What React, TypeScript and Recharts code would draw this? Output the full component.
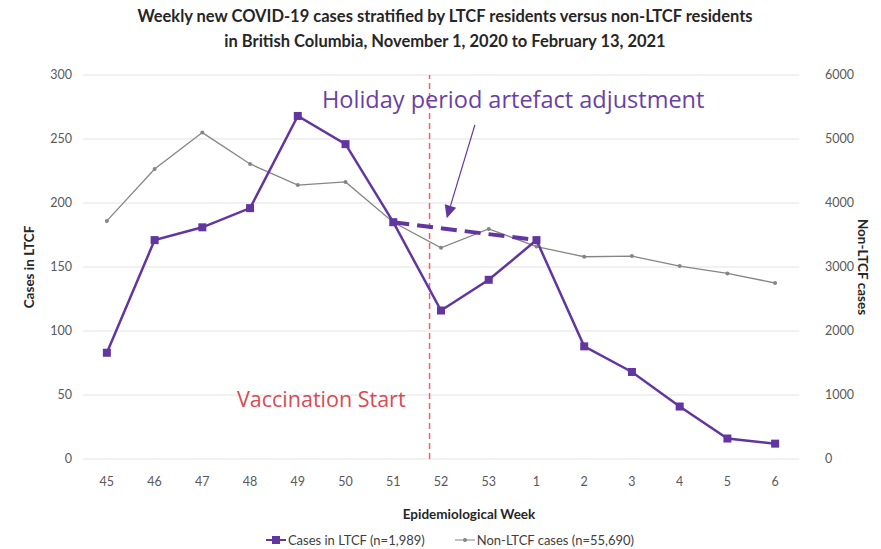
import React from "react";
import {
  LineChart,
  Line,
  XAxis,
  YAxis,
  CartesianGrid,
  ReferenceLine,
  Legend,
} from "recharts";

const weeks = ["45", "46", "47", "48", "49", "50", "51", "52", "53", "1", "2", "3", "4", "5", "6"];
const ltcfCases = [83, 171, 181, 196, 268, 246, 185, 116, 140, 171, 88, 68, 41, 16, 12];
const nonLtcfCases = [3720, 4530, 5100, 4610, 4280, 4330, 3700, 3300, 3595, 3320, 3160, 3170, 3015, 2900, 2750];
// holiday adjustment: straight dashed line from week 51 to week 1
const adjusted = [null, null, null, null, null, null, 185, null, null, 171, null, null, null, null, null];
const leftTicks = [0, 50, 100, 150, 200, 250, 300];
const rightTicks = [0, 1000, 2000, 3000, 4000, 5000, 6000];
const vaccinationX = 6.76;
const arrowFrom = { x: 7.71, y: 261 };
const arrowTo = { x: 7.12, y: 188 };

const data = weeks.map((w, i) => ({
  idx: i,
  week: w,
  ltcf: ltcfCases[i],
  nonLtcf: nonLtcfCases[i],
  adjusted: adjusted[i],
}));

const PURPLE = "#6236a0";
const GRAY = "#858585";
const FONT = "Lato, sans-serif";

function Arrow(props: any) {
  const { x1, y1, x2, y2 } = props;
  const ang = Math.atan2(y2 - y1, x2 - x1);
  const len = 13;
  const w = 6;
  const bx = x2 - len * Math.cos(ang);
  const by = y2 - len * Math.sin(ang);
  const px = -Math.sin(ang) * w;
  const py = Math.cos(ang) * w;
  return (
    <g>
      <line x1={x1} y1={y1} x2={bx} y2={by} stroke={PURPLE} strokeWidth={1.2} />
      <polygon points={`${x2},${y2} ${bx + px},${by + py} ${bx - px},${by - py}`} fill={PURPLE} />
    </g>
  );
}

function SquareDot(props: any) {
  const { cx, cy } = props;
  if (cx == null || cy == null) return null;
  return <rect x={cx - 4} y={cy - 4} width={8} height={8} fill={PURPLE} />;
}

function SmallDot(props: any) {
  const { cx, cy } = props;
  if (cx == null || cy == null) return null;
  return <circle cx={cx} cy={cy} r={2} fill={GRAY} />;
}

function LegendContent() {
  return (
    <div style={{ display: "flex", justifyContent: "center", gap: 30, paddingLeft: 18, fontFamily: FONT, fontSize: 13, lineHeight: "18px", color: "#404040" }}>
      <span style={{ display: "flex", alignItems: "center" }}>
        <svg width={20} height={10} style={{ marginRight: 2 }}>
          <line x1={0} y1={5} x2={20} y2={5} stroke={PURPLE} strokeWidth={2} />
          <rect x={6} y={1} width={8} height={8} fill={PURPLE} />
        </svg>
        Cases in LTCF (n=1,989)
      </span>
      <span style={{ display: "flex", alignItems: "center" }}>
        <svg width={20} height={10} style={{ marginRight: 2 }}>
          <line x1={0} y1={5} x2={20} y2={5} stroke={GRAY} strokeWidth={1} />
          <circle cx={10} cy={5} r={2} fill={GRAY} />
        </svg>
        Non-LTCF cases (n=55,690)
      </span>
    </div>
  );
}

export default function App() {
  return (
    <div style={{ position: "absolute", left: 0, top: 0, width: 881, height: 549, background: "#fff" }}>
      <div
        style={{
          position: "absolute",
          top: 4,
          left: 0,
          width: 890,
          textAlign: "center",
          fontFamily: FONT,
          fontWeight: 700,
          fontSize: 16.5,
          lineHeight: "25px",
          color: "#262626",
        }}
      >
        Weekly new COVID-19 cases stratified by LTCF residents versus non-LTCF residents
        <br />
        in British Columbia, November 1, 2020 to February 13, 2021
      </div>
      <LineChart
        width={881}
        height={549}
        data={data}
        margin={{ top: 75, right: 22, bottom: 0, left: 23 }}
      >
        <CartesianGrid yAxisId="left" vertical={false} stroke="#ececec" strokeWidth={1.5} />
        <XAxis
          dataKey="idx"
          type="number"
          domain={[-0.5, 14.5]}
          ticks={data.map((d) => d.idx)}
          tickFormatter={(v: number) => weeks[v]}
          axisLine={false}
          tickLine={false}
          height={72}
          tick={{ fill: "#595959", fontSize: 12.5, fontFamily: FONT }}
          tickMargin={12}
          label={{
            value: "Epidemiological Week",
            position: "insideBottom",
            offset: 12,
            dx: 28,
            fill: "#262626",
            fontSize: 13.5,
            fontWeight: 700,
            fontFamily: FONT,
          }}
        />
        <YAxis
          yAxisId="left"
          domain={[0, 300]}
          ticks={leftTicks}
          axisLine={false}
          tickLine={false}
          width={60}
          tickMargin={5}
          tick={{ fill: "#595959", fontSize: 12.5, fontFamily: FONT }}
          label={{
            value: "Cases in LTCF",
            angle: -90,
            position: "insideLeft",
            offset: 0,
            dx: 6,
            fill: "#262626",
            fontSize: 13.5,
            fontWeight: 700,
            fontFamily: FONT,
            style: { textAnchor: "middle" },
          }}
        />
        <YAxis
          yAxisId="right"
          orientation="right"
          domain={[0, 6000]}
          ticks={rightTicks}
          axisLine={false}
          tickLine={false}
          width={60}
          tickMargin={20}
          tick={{ fill: "#595959", fontSize: 12.5, fontFamily: FONT }}
          label={{
            value: "Non-LTCF cases",
            angle: 90,
            position: "insideRight",
            offset: 0,
            dx: 4,
            fill: "#262626",
            fontSize: 13.5,
            fontWeight: 700,
            fontFamily: FONT,
            style: { textAnchor: "middle" },
          }}
        />
        <Legend verticalAlign="bottom" height={18} content={<LegendContent />} />
        <ReferenceLine
          yAxisId="left"
          x={vaccinationX}
          stroke="#f0606a"
          strokeWidth={1.5}
          strokeDasharray="6 4"
          ifOverflow="extendDomain"
        />
        <Line
          yAxisId="right"
          dataKey="nonLtcf"
          stroke={GRAY}
          strokeWidth={1.3}
          dot={<SmallDot />}
          isAnimationActive={false}
        />
        <Line
          yAxisId="left"
          dataKey="adjusted"
          stroke={PURPLE}
          strokeWidth={4}
          strokeDasharray="16 8"
          connectNulls
          dot={false}
          isAnimationActive={false}
        />
        <Line
          yAxisId="left"
          dataKey="ltcf"
          stroke={PURPLE}
          strokeWidth={2.5}
          dot={<SquareDot />}
          isAnimationActive={false}
        />
        <ReferenceLine
          yAxisId="left"
          segment={[arrowFrom, arrowTo]}
          shape={<Arrow />}
          ifOverflow="visible"
        />
      </LineChart>
      <div
        style={{
          position: "absolute",
          left: 322,
          top: 83,
          fontFamily: "'Open Sans', sans-serif",
          fontSize: 23.5,
          color: "#6a3fa8",
          whiteSpace: "nowrap",
        }}
      >
        Holiday period artefact adjustment
      </div>
      <div
        style={{
          position: "absolute",
          left: 237,
          top: 384,
          fontFamily: "'Open Sans', sans-serif",
          fontSize: 21.5,
          color: "#d94a55",
          whiteSpace: "nowrap",
        }}
      >
        Vaccination Start
      </div>
    </div>
  );
}
